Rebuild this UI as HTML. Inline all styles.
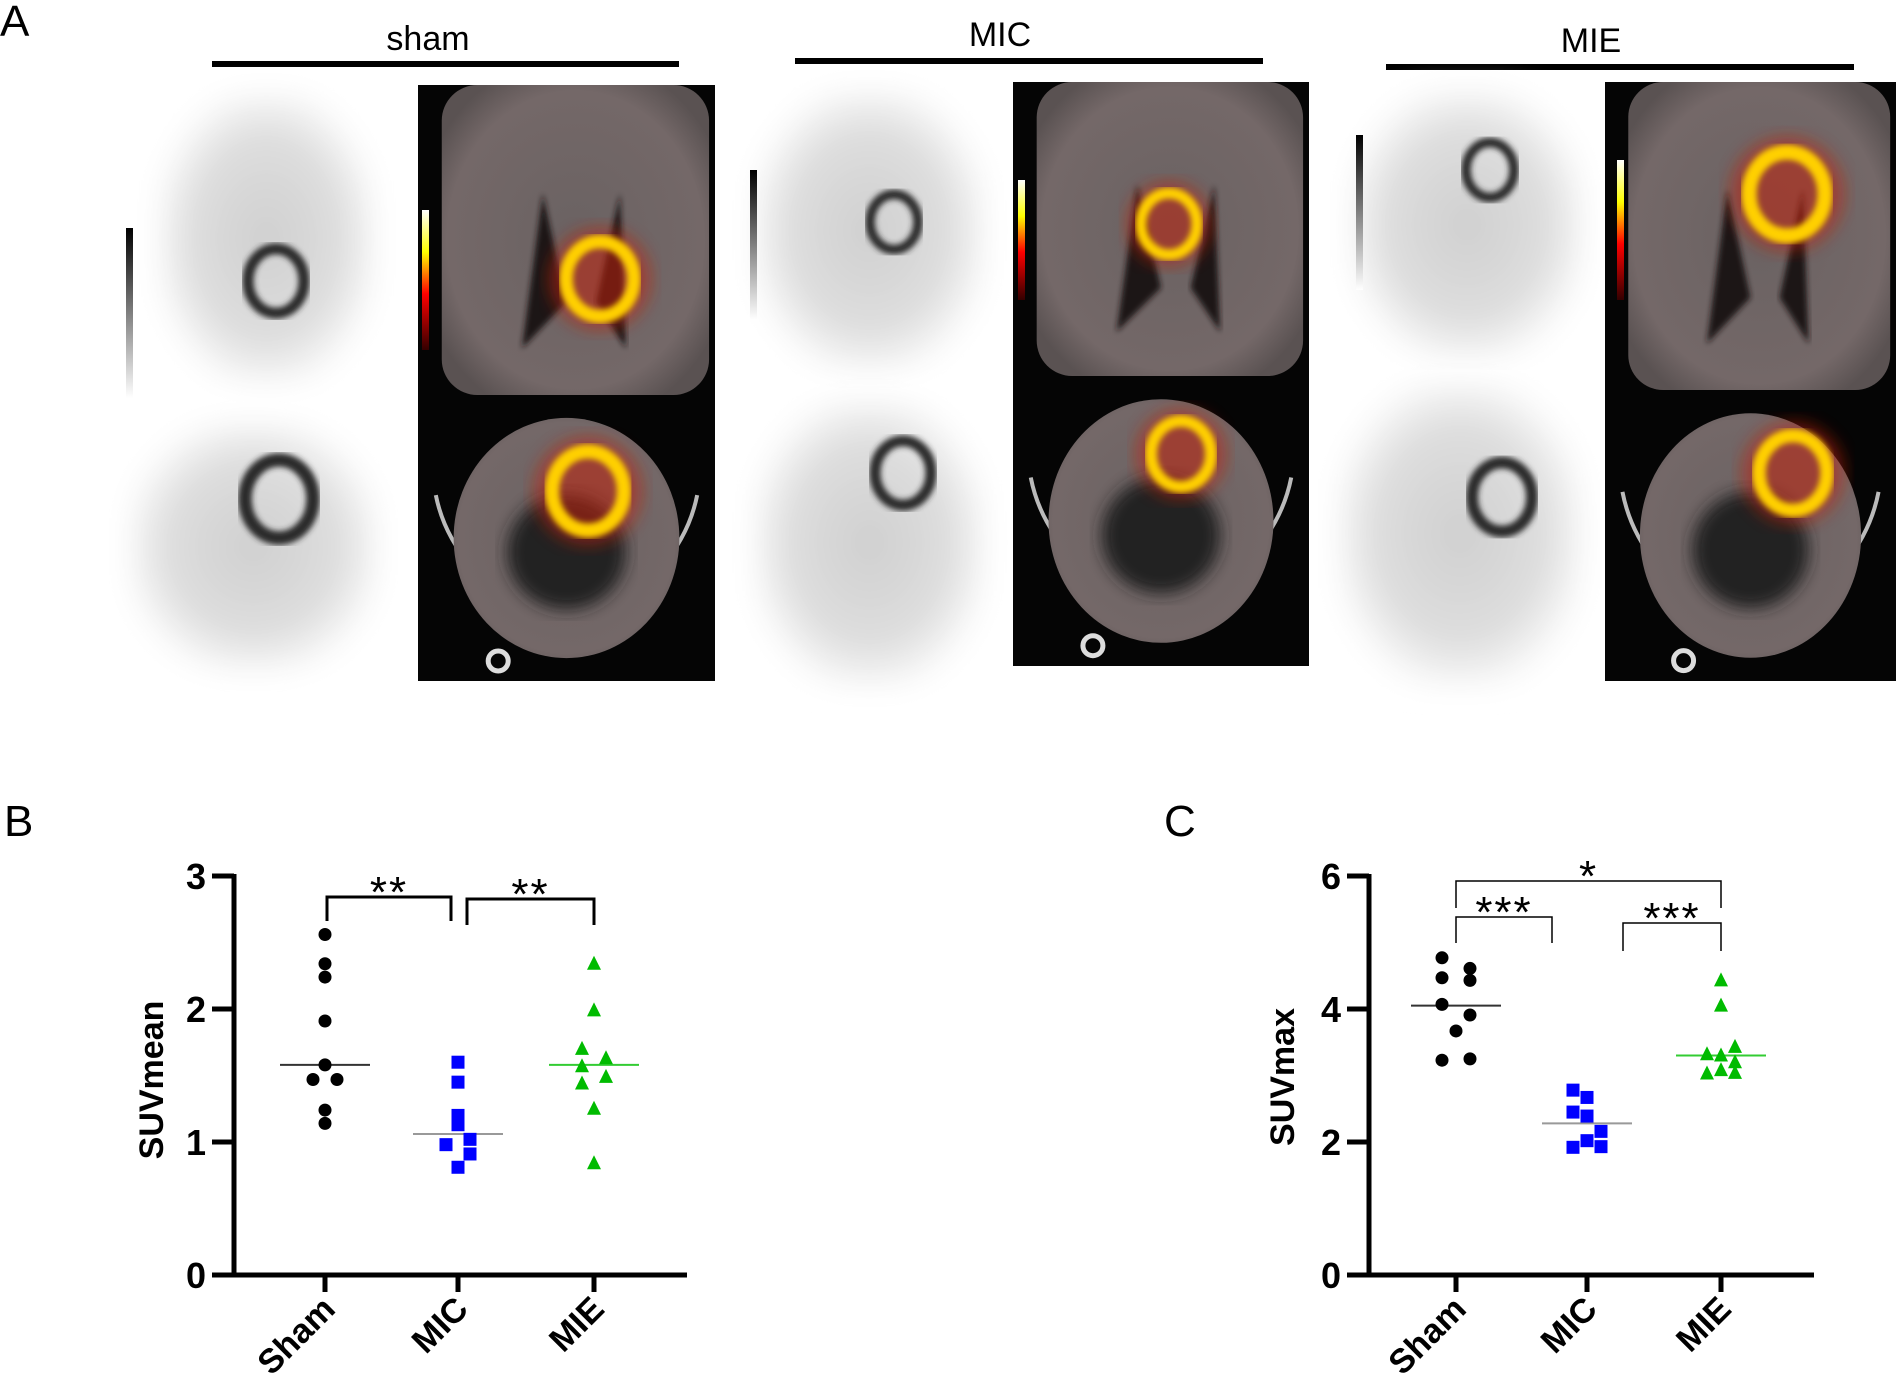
<!DOCTYPE html>
<html><head><meta charset="utf-8">
<style>
html,body{margin:0;padding:0;background:#fff;}
svg{display:block;font-family:"Liberation Sans",Arial,sans-serif;}
</style></head>
<body>
<svg id="fig" width="1900" height="1384" viewBox="0 0 1900 1384" xmlns="http://www.w3.org/2000/svg">
<defs>
  <radialGradient id="grayBlob" cx="50%" cy="50%" r="55%">
    <stop offset="0" stop-color="#cfcfcf"/><stop offset="0.65" stop-color="#dedede"/><stop offset="1" stop-color="#fff"/>
  </radialGradient>
  <radialGradient id="ctBody" cx="50%" cy="50%" r="60%">
    <stop offset="0" stop-color="#6a6262"/><stop offset="0.8" stop-color="#746868"/><stop offset="1" stop-color="#5a5252"/>
  </radialGradient>
  <filter id="blur3"><feGaussianBlur stdDeviation="3"/></filter>
  <filter id="blur8"><feGaussianBlur stdDeviation="8"/></filter>
  <filter id="blur14"><feGaussianBlur stdDeviation="14"/></filter>
  <linearGradient id="hotbar" x1="0" y1="0" x2="0" y2="1">
    <stop offset="0" stop-color="#fff"/><stop offset="0.3" stop-color="#ff0"/><stop offset="0.6" stop-color="#f00"/><stop offset="1" stop-color="#300"/>
  </linearGradient>
  <linearGradient id="graybar" x1="0" y1="0" x2="0" y2="1">
    <stop offset="0" stop-color="#000"/><stop offset="1" stop-color="#fff"/>
  </linearGradient>
</defs>
<g id="panelA"></g>
<g id="chartB"></g>
<g id="chartC"></g>
</svg>
<script>
// ---- Chart data ----
const categories = ["Sham", "MIC", "MIE"];
const suvMeanSham = [2.56, 2.34, 2.24, 1.91, 1.58, 1.47, 1.47, 1.24, 1.14];
const suvMeanMIC = [1.60, 1.45, 1.20, 1.13, 1.02, 0.98, 0.91, 0.81];
const suvMeanMIE = [2.34, 1.99, 1.70, 1.63, 1.57, 1.49, 1.44, 1.25, 0.84];
const suvMeanMeans = [1.58, 1.06, 1.58];
const suvMaxSham = [4.77, 4.61, 4.47, 4.43, 4.07, 3.91, 3.67, 3.23, 3.25];
const suvMaxMIC = [2.78, 2.67, 2.45, 2.39, 2.16, 2.02, 1.92, 1.93];
const suvMaxMIE = [4.43, 4.05, 3.43, 3.32, 3.30, 3.20, 3.08, 3.03, 3.04];
const suvMaxMeans = [4.05, 2.28, 3.30];
const suvMeanTicks = [0, 1, 2, 3];
const suvMaxTicks = [0, 2, 4, 6];
// jitter slots (style only)
const jitMeanSham = [0,0,0,0,0,-1,1,0,0];
const jitMeanMIC = [0,0,0,0,1,-1,1,0];
const jitMeanMIE = [0,0,-1,1,-1,1,-1,0,0];
const jitMaxSham = [-1,1,-1,1,-1,1,0,-1,1];
const jitMaxMIC = [-1,0,-1,0,1,0,-1,1];
const jitMaxMIE = [0,0,1,-1,0,1,0,-1,1];

const NS = "http://www.w3.org/2000/svg";
function mk(tag, parent, attrs){ const e=document.createElementNS(NS,tag); for(const k in attrs) e.setAttribute(k,attrs[k]); parent.appendChild(e); return e; }

// ---- Panel A (images approximated) ----
const A = document.getElementById('panelA');
let t = mk('text', A, {x:0, y:36, 'font-size':44});
t.textContent='A';


const groups = [
  {name:'sham', cx:428, ty:50, lx1:212, lx2:679, ly:64},
  {name:'MIC', cx:1000, ty:46, lx1:795, lx2:1263, ly:61},
  {name:'MIE', cx:1591, ty:52, lx1:1386, lx2:1854, ly:67}
];
groups.forEach(g=>{
  const tt = mk('text', A, {x:g.cx, y:g.ty, 'font-size':34, 'text-anchor':'middle'});
  tt.textContent = g.name;
  
  
  const ln = mk('line', A, {x1:g.lx1, x2:g.lx2, y1:g.ly, y2:g.ly, stroke:'#000', 'stroke-width':6});
  
  
});
function petImg(x,y,w,h,ringx,ringy,rr,name,bar){
  const g = mk('g', A, {});
  
  
  mk('rect', g, {x:x,y:y,width:w,height:h,fill:'#fff'});
  mk('rect', g, {x:x+w*0.08, y:y+h*0.04, width:w*0.84, height:h*0.92, rx:w*0.3, fill:'url(#grayBlob)', filter:'url(#blur14)'});
  mk('ellipse', g, {cx:ringx, cy:ringy, rx:rr, ry:rr*1.15, fill:'none', stroke:'#2a2a2a', 'stroke-width':rr*0.4, filter:'url(#blur3)'});
  if(bar) mk('rect', g, {x:bar[0], y:bar[1], width:7, height:bar[2], fill:'url(#graybar)'});
}
function ctImg(x,y,w,h,hx,hy,hr,name,axial,bar){
  const g = mk('g', A, {});
  
  
  mk('rect', g, {x:x,y:y,width:w,height:h,fill:'#050505'});
  if(axial){
    mk('path', g, {d:`M${x+w*0.06},${y+h*0.35} A${w*0.45},${h*0.5} 0 0 0 ${x+w*0.94},${y+h*0.35}`, fill:'none', stroke:'#bbb','stroke-width':4});
    mk('ellipse', g, {cx:x+w*0.5, cy:y+h*0.5, rx:w*0.38, ry:h*0.42, fill:'url(#ctBody)'});
    mk('ellipse', g, {cx:x+w*0.5, cy:y+h*0.55, rx:w*0.2, ry:h*0.2, fill:'#222', filter:'url(#blur8)'});
    mk('circle', g, {cx:x+w*0.27, cy:y+h*0.93, r:10, fill:'none', stroke:'#ddd','stroke-width':5});
  } else {
    mk('rect', g, {x:x+w*0.08, y:y, width:w*0.9, height:h, rx:w*0.12, fill:'url(#ctBody)'});
    mk('polygon', g, {points:`${x+w*0.35},${y+h*0.85} ${x+w*0.42},${y+h*0.35} ${x+w*0.5},${y+h*0.7}`, fill:'#1a1414', filter:'url(#blur3)'});
    mk('polygon', g, {points:`${x+w*0.7},${y+h*0.85} ${x+w*0.68},${y+h*0.35} ${x+w*0.6},${y+h*0.7}`, fill:'#1a1414', filter:'url(#blur3)'});
  }
  mk('ellipse', g, {cx:hx, cy:hy, rx:hr*1.5, ry:hr*1.5, fill:'#c02010', opacity:0.55, filter:'url(#blur8)'});
  mk('ellipse', g, {cx:hx, cy:hy, rx:hr, ry:hr*1.1, fill:'none', stroke:'#ffd000', 'stroke-width':hr*0.4, filter:'url(#blur3)'});
  if(bar) mk('rect', g, {x:bar[0], y:bar[1], width:7, height:bar[2], fill:'url(#hotbar)'});
}
petImg(139,82,255,313,276,281,28,'pet-coronal-sham',[126,228,170]);
ctImg(418,85,297,310,600,279,34,'fused-coronal-sham',false,[422,210,140]);
petImg(107,412,293,269,279,499,34,'pet-axial-sham');
ctImg(418,395,297,286,588,491,36,'fused-axial-sham',true);
petImg(733,79,273,303,894,222,24,'pet-coronal-mic',[750,170,150]);
ctImg(1013,82,296,294,1169,224,28,'fused-coronal-mic',false,[1018,180,120]);
petImg(733,388,273,309,903,473,28,'pet-axial-mic');
ctImg(1013,376,296,290,1181,454,30,'fused-axial-mic',true);
petImg(1329,79,276,291,1490,170,24,'pet-coronal-mie',[1356,135,155]);
ctImg(1605,82,291,308,1787,194,38,'fused-coronal-mie',false,[1617,160,140]);
petImg(1315,370,290,327,1502,497,30,'pet-axial-mie');
ctImg(1605,390,291,291,1793,473,34,'fused-axial-mie',true);

// ---- Scatter charts ----
function drawChart(gid, o){
  const G = document.getElementById(gid);
  const ys = v => o.y0 - (v - o.ymin)/(o.ymax-o.ymin)*(o.y0-o.yTop);
  const xs = i => o.xCat[i];
  const lbl = mk('text', G, {x:o.panelX, y:836, 'font-size':44});
  lbl.textContent = o.panel;
  
  
  const yax = mk('line', G, {x1:o.ax, x2:o.ax, y1:o.yTop-2, y2:o.y0+2, stroke:'#000','stroke-width':5});
  
  
  const xax = mk('line', G, {x1:o.ax-22, x2:o.axEnd, y1:o.y0, y2:o.y0, stroke:'#000','stroke-width':5});
  
  
  o.ticks.forEach(v=>{
    const y=ys(v);
    const tl = mk('line', G, {x1:o.ax-22, x2:o.ax, y1:y, y2:y, stroke:'#000','stroke-width':5});
    
    
    const tx = mk('text', G, {x:o.ax-28, y:y+13, 'font-size':36,'font-weight':'bold','text-anchor':'end'});
    tx.textContent = v;
    
    
  });
  const yt = mk('text', G, {x:0,y:0,'font-size':34,'font-weight':'bold','text-anchor':'middle',transform:`translate(${o.ytX},${o.ytY}) rotate(-90)`});
  yt.textContent = o.ytitle;
  
  
  categories.forEach((c,i)=>{
    const x=xs(i);
    const tk = mk('line', G, {x1:x,x2:x,y1:o.y0,y2:o.y0+17,stroke:'#000','stroke-width':5});
    
    
    const tx = mk('text', G, {x:0,y:0,'font-size':34,'font-weight':'bold','text-anchor':'end',transform:`translate(${x+12},${o.y0+36}) rotate(-45)`});
    tx.textContent = c;
    
    
  });
  const colors=['#000','#0000ff','#00bb00'];
  const meanCol=['#333','#999','#33cc33'];
  o.series.forEach((vals,i)=>{
    const cx=xs(i);
    const ml = mk('line', G, {x1:cx-45,x2:cx+45,y1:ys(o.means[i]),y2:ys(o.means[i]),stroke:meanCol[i],'stroke-width':2});
    
    
    vals.forEach((v,j)=>{
      const x=cx+o.jit[i][j]*o.jw, y=ys(v);
      let p;
      if(i===0) p=mk('circle',G,{cx:x,cy:y,r:6.5,fill:colors[0]});
      else if(i===1) p=mk('rect',G,{x:x-6.5,y:y-6.5,width:13,height:13,fill:colors[1]});
      else p=mk('polygon',G,{points:`${x},${y-8} ${x-7},${y+6} ${x+7},${y+6}`,fill:colors[2]});
      
      
    });
  });
  o.brackets.forEach(b=>{
    const pth = mk('path', G, {d:`M${b.x1},${b.l1} V${b.y} H${b.x2} V${b.l2}`, fill:'none', stroke:'#000','stroke-width':b.w});
    
    
    const st = mk('text', G, {x:(b.x1+b.x2)/2, y:b.y+10, 'font-size':44,'text-anchor':'middle','letter-spacing':'2'});
    st.textContent = b.s;
    
    
  });
}
drawChart('chartB',{panel:'B',panelX:4,ax:234,axEnd:687,y0:1275,yTop:876,ymin:0,ymax:3,ticks:suvMeanTicks,
  xCat:[325,458,594],ytitle:'SUVmean',ytX:163,ytY:1080,
  series:[suvMeanSham,suvMeanMIC,suvMeanMIE],means:suvMeanMeans,jit:[jitMeanSham,jitMeanMIC,jitMeanMIE],jw:12,
  brackets:[{x1:327,x2:451,y:897,l1:921,l2:921,s:'**',w:3},{x1:467,x2:594,y:899,l1:925,l2:925,s:'**',w:3}]});
drawChart('chartC',{panel:'C',panelX:1164,ax:1369,axEnd:1814,y0:1275,yTop:876,ymin:0,ymax:6,ticks:suvMaxTicks,
  xCat:[1456,1587,1721],ytitle:'SUVmax',ytX:1294,ytY:1077,
  series:[suvMaxSham,suvMaxMIC,suvMaxMIE],means:suvMaxMeans,jit:[jitMaxSham,jitMaxMIC,jitMaxMIE],jw:14,
  brackets:[{x1:1456,x2:1721,y:881,l1:908,l2:908,s:'*',w:1.5},
            {x1:1456,x2:1552,y:917,l1:943,l2:943,s:'***',w:1.5},
            {x1:1623,x2:1721,y:923,l1:951,l2:951,s:'***',w:1.5}]});
</script>
</body></html>
